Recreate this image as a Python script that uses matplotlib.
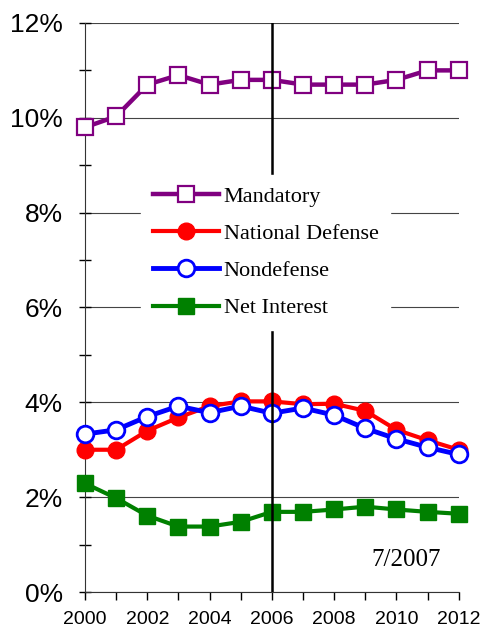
import matplotlib
matplotlib.use('Agg')
import matplotlib.pyplot as plt
from matplotlib.ticker import MultipleLocator, FuncFormatter

years = list(range(2000, 2013))
mandatory = [9.8, 10.03, 10.7, 10.9, 10.7, 10.8, 10.8, 10.7, 10.7, 10.7, 10.8, 11.0, 11.0]
defense = [3.0, 3.0, 3.4, 3.68, 3.92, 4.02, 4.02, 3.96, 3.97, 3.82, 3.42, 3.2, 3.0]
nondefense = [3.33, 3.42, 3.7, 3.92, 3.78, 3.92, 3.77, 3.88, 3.73, 3.45, 3.23, 3.05, 2.9]
interest = [2.29, 1.98, 1.61, 1.38, 1.38, 1.48, 1.69, 1.69, 1.74, 1.8, 1.74, 1.69, 1.65]
xlabels = ['2000', '2002', '2004', '2006', '2008', '2010', '2012']

fig = plt.figure(figsize=(4.81, 6.31), dpi=100)
ax = fig.add_axes([0.1767, 0.0618, 0.777, 0.9018])

ax.plot(years, mandatory, color='#800080', lw=3.2, marker='s', ms=12,
        mfc='white', mec='#800080', mew=1.6, clip_on=False, zorder=3, label='Mandatory')
ax.plot(years, defense, color='red', lw=3, marker='o', ms=12,
        mfc='red', mec='red', clip_on=False, zorder=3, label='National Defense')
ax.plot(years, nondefense, color='blue', lw=3.5, marker='o', ms=12,
        mfc='white', mec='blue', mew=2, clip_on=False, zorder=4, label='Nondefense')
ax.plot(years, interest, color='green', lw=3, marker='s', ms=12,
        mfc='green', mec='green', clip_on=False, zorder=3, label='Net Interest')

ax.axvline(2006, color='black', lw=1.8, zorder=5)

ax.set_xlim(2000, 2012)
ax.set_ylim(0, 12)
ax.yaxis.set_major_locator(MultipleLocator(2))
ax.yaxis.set_minor_locator(MultipleLocator(1))
ax.yaxis.set_major_formatter(FuncFormatter(lambda v, p: '%d%%' % v))
ax.xaxis.set_minor_locator(MultipleLocator(1))
ax.set_xticks(range(2000, 2013, 2))
ax.set_xticklabels(xlabels, fontfamily='Liberation Sans', fontsize=14)
for t in ax.get_yticklabels():
    t.set_fontfamily('Liberation Sans')
    t.set_fontsize(19)

ax.grid(axis='y', which='major', color='#444444', lw=0.8, zorder=1)
ax.tick_params(axis='y', which='both', direction='inout', length=8, width=1, pad=12)
ax.tick_params(axis='x', which='both', direction='out', length=6, width=1, pad=8)
for s in ['top', 'right']:
    ax.spines[s].set_visible(False)
ax.spines['left'].set_color('#333333')
ax.spines['bottom'].set_color('#333333')

leg = ax.legend(loc='center', bbox_to_anchor=(0.483, 0.597), frameon=True,
                prop={'family': 'Liberation Serif', 'size': 16},
                handlelength=3.0, handletextpad=0.2, labelspacing=0.75,
                borderpad=0.5, fancybox=False)
leg.get_frame().set_edgecolor('white')
leg.get_frame().set_facecolor('white')
leg.get_frame().set_alpha(1)
leg.set_zorder(10)

ax.text(2010.3, 0.68, '7/2007', fontfamily='Liberation Serif', fontsize=18,
        ha='center', va='center')

fig.savefig('out.png', dpi=100)
